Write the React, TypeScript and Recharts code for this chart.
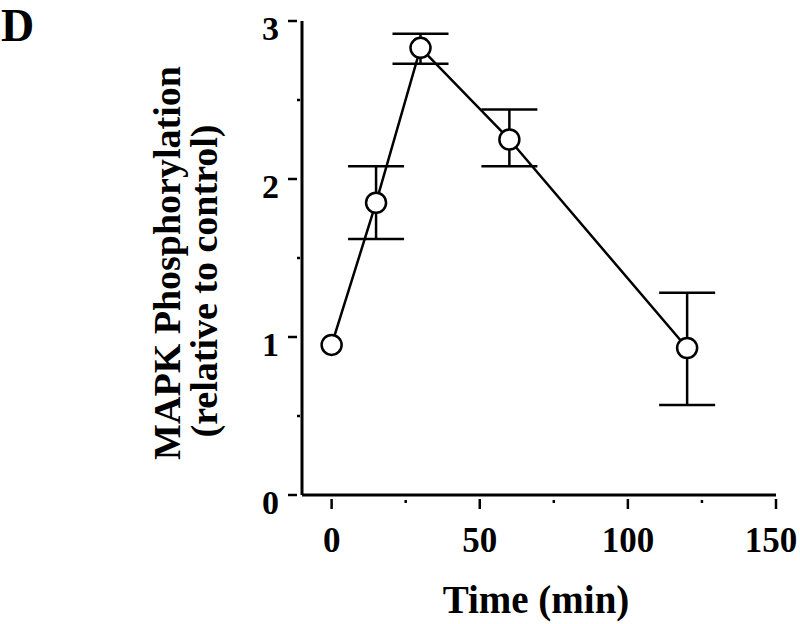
import { LineChart, Line, XAxis, YAxis, ErrorBar } from "recharts";

const TIMES = [0, 15, 30, 60, 120];
const PHOSPHO = [0.95, 1.85, 2.83, 2.25, 0.93];
// lower / upper error, null where no bar is drawn
const ERR_LOW = [null, 0.23, 0.1, 0.17, 0.36];
const ERR_HIGH = [null, 0.23, 0.09, 0.19, 0.35];

const X_TICKS = [0, 25, 50, 75, 100, 125, 150];
const X_MAJOR = [0, 50, 100, 150];
const Y_TICKS = [0, 0.5, 1, 1.5, 2, 2.5, 3];
const Y_MAJOR = [0, 1, 2, 3];

const FONT = '"Liberation Serif", "Times New Roman", serif';

const data = TIMES.map((t, i) => ({
  t,
  v: PHOSPHO[i],
  err: ERR_LOW[i] == null ? undefined : [ERR_LOW[i], ERR_HIGH[i]],
}));

function XTick({ x, y, payload }: any) {
  const major = X_MAJOR.includes(payload.value);
  if (!major) {
    return <line x1={x} x2={x} y1={y + 5} y2={y + 8} stroke="#000" strokeWidth={2.5} />;
  }
  return (
    <g>
      <line x1={x} x2={x} y1={y + 4} y2={y + 14} stroke="#000" strokeWidth={2.5} />
      <text
        x={Math.min(x, 771)}
        y={y + 45}
        textAnchor="middle"
        dominantBaseline="central"
        fontFamily={FONT}
        fontWeight="bold"
        fontSize={35}
        fill="#000"
      >
        {payload.value}
      </text>
    </g>
  );
}

function YTick({ x, y, payload }: any) {
  const major = Y_MAJOR.includes(payload.value);
  if (!major) {
    return <line x1={x - 5} x2={x - 2} y1={y} y2={y} stroke="#000" strokeWidth={2.5} />;
  }
  return (
    <g>
      <line x1={x - 14} x2={x - 5} y1={y} y2={y} stroke="#000" strokeWidth={2.5} />
      <text
        x={x - 23}
        y={y + 7}
        textAnchor="end"
        dominantBaseline="central"
        fontFamily={FONT}
        fontWeight="bold"
        fontSize={34}
        fill="#000"
      >
        {payload.value}
      </text>
    </g>
  );
}

function XTitle({ viewBox }: any) {
  const { x, y, width } = viewBox;
  return (
    <text
      x={x + width / 2 - 3}
      y={y + 118}
      textAnchor="middle"
      fontFamily={FONT}
      fontWeight="bold"
      fontSize={39}
      fill="#000"
    >
      Time (min)
    </text>
  );
}

function YTitle() {
  return (
    <g fontFamily={FONT} fontWeight="bold" fontSize={38} fill="#000">
      <text
        transform="translate(167, 263) rotate(-90)"
        textAnchor="middle"
        dominantBaseline="central"
      >
        MAPK Phosphorylation
      </text>
      <text
        transform="translate(204, 281) rotate(-90)"
        textAnchor="middle"
        dominantBaseline="central"
      >
        (relative to control)
      </text>
    </g>
  );
}

export default function App() {
  return (
    <div style={{ position: "absolute", left: 0, top: 0, width: 800, height: 624, background: "#fff" }}>
      <LineChart
        width={800}
        height={624}
        data={data}
        margin={{ top: 21, right: 24, bottom: 0, left: 0 }}
      >
        <XAxis
          dataKey="t"
          type="number"
          domain={[-10, 150]}
          ticks={X_TICKS}
          interval={0}
          height={129}
          tickSize={0}
          tickMargin={0}
          tickLine={false}
          axisLine={{ stroke: "#000", strokeWidth: 3 }}
          tick={<XTick />}
          label={<XTitle />}
        />
        <YAxis
          type="number"
          domain={[0, 3]}
          ticks={Y_TICKS}
          interval={0}
          width={302}
          tickSize={0}
          tickMargin={0}
          tickLine={false}
          axisLine={{ stroke: "#000", strokeWidth: 3 }}
          tick={<YTick />}
          label={<YTitle />}
        />
        <Line
          dataKey="v"
          type="linear"
          stroke="#000"
          strokeWidth={2.5}
          dot={{ r: 10, fill: "#fff", stroke: "#000", strokeWidth: 2.5 }}
          isAnimationActive={false}
        >
          <ErrorBar dataKey="err" direction="y" width={28} stroke="#000" strokeWidth={2.5} />
        </Line>
      </LineChart>
      <svg
        width={60}
        height={50}
        style={{ position: "absolute", left: 0, top: 0 }}
      >
        <text x={1} y={41} fontFamily={FONT} fontWeight="bold" fontSize={46} fill="#000">
          D
        </text>
      </svg>
    </div>
  );
}
